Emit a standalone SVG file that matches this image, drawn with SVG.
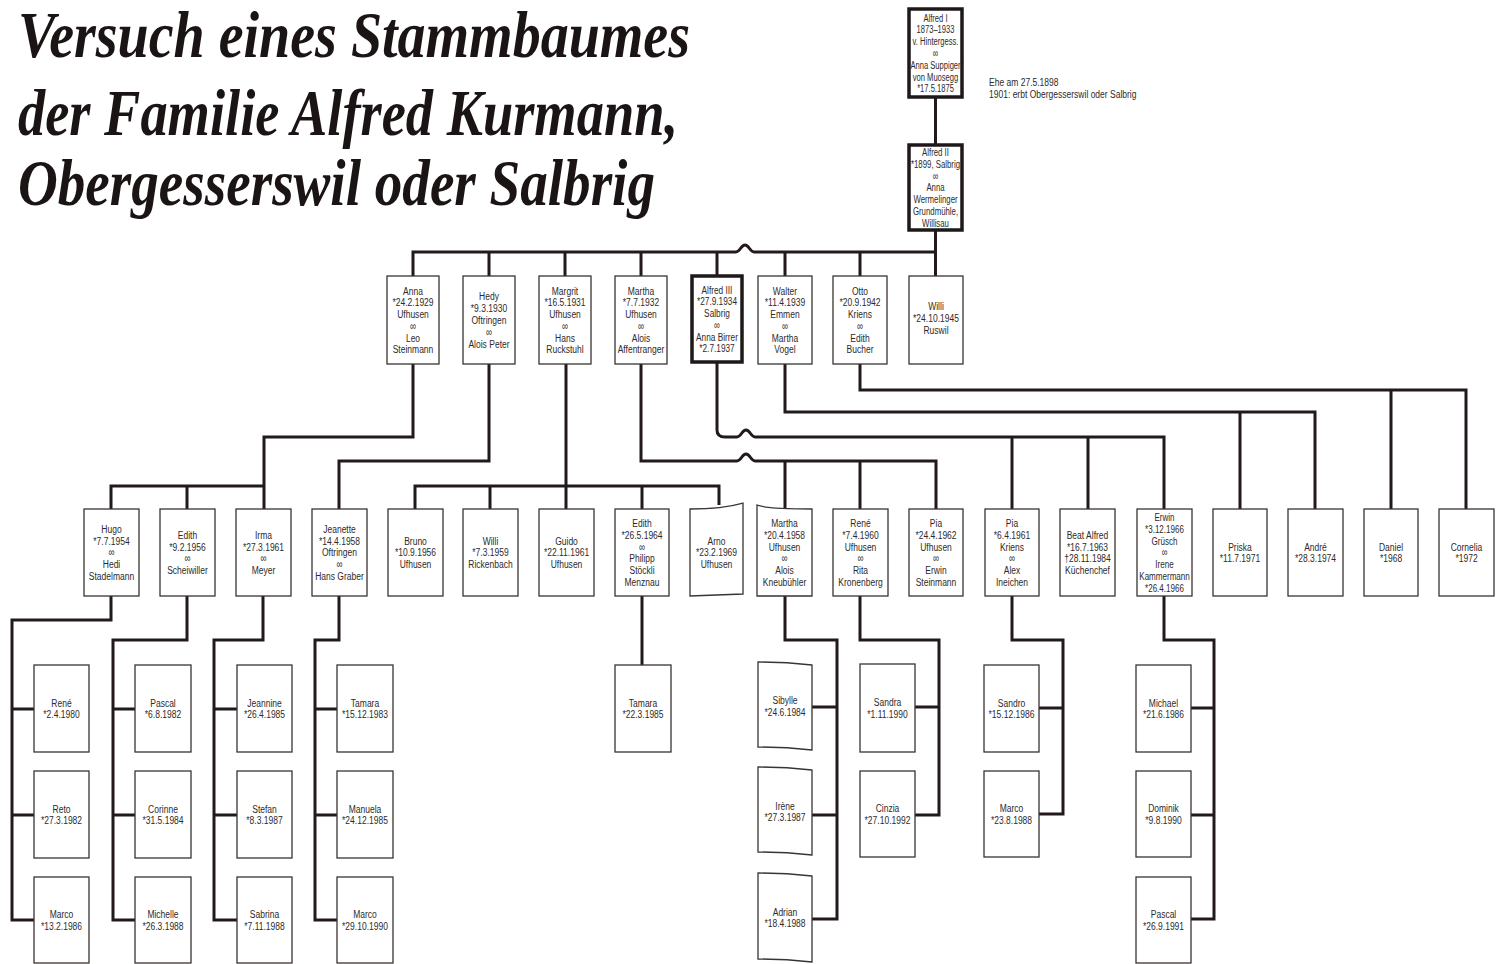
<svg xmlns="http://www.w3.org/2000/svg" width="1502" height="964" viewBox="0 0 1502 964">
<style>
.bg{fill:#ffffff}
.b{fill:#fff;stroke:#3a3434;stroke-width:1.3}
.bt{fill:#fff;stroke:#1e1818;stroke-width:3.5}
.c{fill:none;stroke:#221a1a;stroke-width:3;stroke-linejoin:miter}
.t{font-family:"Liberation Sans",Arial,sans-serif;font-size:11.5px;fill:#2e2a2a;text-anchor:middle}
.n{font-family:"Liberation Sans",Arial,sans-serif;font-size:11.5px;fill:#2e2a2a;text-anchor:start}
.m{font-family:"Liberation Sans","DejaVu Sans",sans-serif;font-size:11.5px}
.h{font-family:"Liberation Serif","DejaVu Serif",serif;font-style:italic;font-weight:bold;font-size:66px;fill:#1a1414}
</style>
<rect class="bg" x="0" y="0" width="1502" height="964"/>

<g id="title">
<text class="h" x="18" y="57" textLength="672" lengthAdjust="spacingAndGlyphs">Versuch eines Stammbaumes</text>
<text class="h" x="18" y="135" textLength="660" lengthAdjust="spacingAndGlyphs">der Familie Alfred Kurmann,</text>
<text class="h" x="18" y="205" textLength="637" lengthAdjust="spacingAndGlyphs">Obergesserswil oder Salbrig</text>
</g>

<g id="note">
<text class="n" transform="translate(989,86) scale(0.74,1)"><tspan x="0">Ehe am 27.5.1898</tspan><tspan x="0" dy="11.8">1901: erbt Obergesserswil oder Salbrig</tspan></text>
</g>

<g id="connectors">
<path class="c" d="M935.5,97 V145"/>
<path class="c" d="M935.5,230 V276"/>
<path class="c" d="M413,276 V252 H736 C740,252 741,245 745,245 C749,245 750,252 754,252 H936"/>
<path class="c" d="M489,252 V276 M565,252 V276 M641,252 V276 M717,252 V276 M785,252 V276 M860,252 V276"/>
<path class="c" d="M413,364 V437 H264 V509"/>
<path class="c" d="M111,509 V486 H264 M187,486 V509"/>
<path class="c" d="M489,364 V461 H339 V509"/>
<path class="c" d="M566,364 V509"/>
<path class="c" d="M415,509 V486 H719 V505 M490,486 V509 M642,486 V509"/>
<path class="c" d="M641,364 V461 H737 C741,461 742,454 746,454 C750,454 751,461 755,461 H936 V509 M785,461 V509 M860,461 V509"/>
<path class="c" d="M717,362 V430 Q717,437 725,437 H737 C741,437 742,430 746,430 C750,430 751,437 755,437 H1164 V509 M1012,437 V509 M1088,437 V509"/>
<path class="c" d="M785,364 V412 H1315 V509 M1240,412 V509"/>
<path class="c" d="M860,364 V390 H1466 V509 M1391,390 V509"/>
<path class="c" d="M111,596 V620 H12 V920 H34 M12,709 H34 M12,815 H34"/>
<path class="c" d="M187,596 V640 H113 V920 H135 M113,709 H135 M113,815 H135"/>
<path class="c" d="M263,596 V640 H214 V920 H237 M214,709 H237 M214,815 H237"/>
<path class="c" d="M339,596 V640 H315 V920 H337 M315,709 H337 M315,815 H337"/>
<path class="c" d="M642,596 V665"/>
<path class="c" d="M785,596 V640 H837 V919 H812 M837,707 H812 M837,815 H812"/>
<path class="c" d="M860,596 V640 H939 V815 H915 M939,707 H915"/>
<path class="c" d="M1012,596 V640 H1063 V814 H1039 M1063,708 H1039"/>
<path class="c" d="M1164,596 V640 H1214 V919 H1191 M1214,708 H1191 M1214,815 H1191"/>
</g>

<g id="alfred1"><rect class="bt" x="909" y="9" width="53" height="88"/>
<text class="t" transform="translate(935.5,21.6) scale(0.66,1)"><tspan x="0">Alfred I</tspan><tspan x="0" dy="11.8">1873–1933</tspan><tspan x="0" dy="11.8">v. Hintergess.</tspan><tspan x="0" dy="11.8" class="m">∞</tspan><tspan x="0" dy="11.8">Anna Suppiger</tspan><tspan x="0" dy="11.8">von Muosegg</tspan><tspan x="0" dy="11.8">*17.5.1875</tspan></text></g>

<g id="alfred2"><rect class="bt" x="909" y="145" width="53" height="85"/>
<text class="t" transform="translate(935.5,156.1) scale(0.68,1)"><tspan x="0">Alfred II</tspan><tspan x="0" dy="11.8">*1899, Salbrig</tspan><tspan x="0" dy="11.8" class="m">∞</tspan><tspan x="0" dy="11.8">Anna</tspan><tspan x="0" dy="11.8">Wermelinger</tspan><tspan x="0" dy="11.8">Grundmühle,</tspan><tspan x="0" dy="11.8">Willisau</tspan></text></g>

<g id="anna"><rect class="b" x="387" y="276" width="52" height="88"/>
<text class="t" transform="translate(413,294.5) scale(0.74,1)"><tspan x="0">Anna</tspan><tspan x="0" dy="11.8">*24.2.1929</tspan><tspan x="0" dy="11.8">Ufhusen</tspan><tspan x="0" dy="11.8" class="m">∞</tspan><tspan x="0" dy="11.8">Leo</tspan><tspan x="0" dy="11.8">Steinmann</tspan></text></g>

<g id="hedy"><rect class="b" x="463" y="276" width="52" height="88"/>
<text class="t" transform="translate(489,300.4) scale(0.74,1)"><tspan x="0">Hedy</tspan><tspan x="0" dy="11.8">*9.3.1930</tspan><tspan x="0" dy="11.8">Oftringen</tspan><tspan x="0" dy="11.8" class="m">∞</tspan><tspan x="0" dy="11.8">Alois Peter</tspan></text></g>

<g id="margrit"><rect class="b" x="539" y="276" width="52" height="88"/>
<text class="t" transform="translate(565,294.5) scale(0.74,1)"><tspan x="0">Margrit</tspan><tspan x="0" dy="11.8">*16.5.1931</tspan><tspan x="0" dy="11.8">Ufhusen</tspan><tspan x="0" dy="11.8" class="m">∞</tspan><tspan x="0" dy="11.8">Hans</tspan><tspan x="0" dy="11.8">Ruckstuhl</tspan></text></g>

<g id="martha"><rect class="b" x="615" y="276" width="52" height="88"/>
<text class="t" transform="translate(641,294.5) scale(0.74,1)"><tspan x="0">Martha</tspan><tspan x="0" dy="11.8">*7.7.1932</tspan><tspan x="0" dy="11.8">Ufhusen</tspan><tspan x="0" dy="11.8" class="m">∞</tspan><tspan x="0" dy="11.8">Alois</tspan><tspan x="0" dy="11.8">Affentranger</tspan></text></g>

<g id="alfred3"><rect class="bt" x="692" y="276" width="50" height="86"/>
<text class="t" transform="translate(717,293.5) scale(0.72,1)"><tspan x="0">Alfred III</tspan><tspan x="0" dy="11.8">*27.9.1934</tspan><tspan x="0" dy="11.8">Salbrig</tspan><tspan x="0" dy="11.8" class="m">∞</tspan><tspan x="0" dy="11.8">Anna Birrer</tspan><tspan x="0" dy="11.8">*2.7.1937</tspan></text></g>

<g id="walter"><rect class="b" x="758" y="276" width="54" height="88"/>
<text class="t" transform="translate(785,294.5) scale(0.74,1)"><tspan x="0">Walter</tspan><tspan x="0" dy="11.8">*11.4.1939</tspan><tspan x="0" dy="11.8">Emmen</tspan><tspan x="0" dy="11.8" class="m">∞</tspan><tspan x="0" dy="11.8">Martha</tspan><tspan x="0" dy="11.8">Vogel</tspan></text></g>

<g id="otto"><rect class="b" x="833" y="276" width="54" height="88"/>
<text class="t" transform="translate(860,294.5) scale(0.74,1)"><tspan x="0">Otto</tspan><tspan x="0" dy="11.8">*20.9.1942</tspan><tspan x="0" dy="11.8">Kriens</tspan><tspan x="0" dy="11.8" class="m">∞</tspan><tspan x="0" dy="11.8">Edith</tspan><tspan x="0" dy="11.8">Bucher</tspan></text></g>

<g id="willi1"><rect class="b" x="909" y="276" width="54" height="88"/>
<text class="t" transform="translate(936,310) scale(0.74,1)"><tspan x="0">Willi</tspan><tspan x="0" dy="11.8">*24.10.1945</tspan><tspan x="0" dy="11.8">Ruswil</tspan></text></g>

<g id="hugo"><rect class="b" x="84" y="509" width="55" height="87"/>
<text class="t" transform="translate(111.5,532.9) scale(0.74,1)"><tspan x="0">Hugo</tspan><tspan x="0" dy="11.8">*7.7.1954</tspan><tspan x="0" dy="11.8" class="m">∞</tspan><tspan x="0" dy="11.8">Hedi</tspan><tspan x="0" dy="11.8">Stadelmann</tspan></text></g>

<g id="edith1"><rect class="b" x="160" y="509" width="55" height="87"/>
<text class="t" transform="translate(187.5,538.8) scale(0.74,1)"><tspan x="0">Edith</tspan><tspan x="0" dy="11.8">*9.2.1956</tspan><tspan x="0" dy="11.8" class="m">∞</tspan><tspan x="0" dy="11.8">Scheiwiller</tspan></text></g>

<g id="irma"><rect class="b" x="236" y="509" width="55" height="87"/>
<text class="t" transform="translate(263.5,538.8) scale(0.74,1)"><tspan x="0">Irma</tspan><tspan x="0" dy="11.8">*27.3.1961</tspan><tspan x="0" dy="11.8" class="m">∞</tspan><tspan x="0" dy="11.8">Meyer</tspan></text></g>

<g id="jeanette"><rect class="b" x="312" y="509" width="55" height="87"/>
<text class="t" transform="translate(339.5,532.9) scale(0.74,1)"><tspan x="0">Jeanette</tspan><tspan x="0" dy="11.8">*14.4.1958</tspan><tspan x="0" dy="11.8">Oftringen</tspan><tspan x="0" dy="11.8" class="m">∞</tspan><tspan x="0" dy="11.8">Hans Graber</tspan></text></g>

<g id="bruno"><rect class="b" x="388" y="509" width="55" height="87"/>
<text class="t" transform="translate(415.5,544.7) scale(0.74,1)"><tspan x="0">Bruno</tspan><tspan x="0" dy="11.8">*10.9.1956</tspan><tspan x="0" dy="11.8">Ufhusen</tspan></text></g>

<g id="willi2"><rect class="b" x="463" y="509" width="55" height="87"/>
<text class="t" transform="translate(490.5,544.7) scale(0.74,1)"><tspan x="0">Willi</tspan><tspan x="0" dy="11.8">*7.3.1959</tspan><tspan x="0" dy="11.8">Rickenbach</tspan></text></g>

<g id="guido"><rect class="b" x="539" y="509" width="55" height="87"/>
<text class="t" transform="translate(566.5,544.7) scale(0.74,1)"><tspan x="0">Guido</tspan><tspan x="0" dy="11.8">*22.11.1961</tspan><tspan x="0" dy="11.8">Ufhusen</tspan></text></g>

<g id="edith2"><rect class="b" x="615" y="509" width="54" height="87"/>
<text class="t" transform="translate(642,527) scale(0.74,1)"><tspan x="0">Edith</tspan><tspan x="0" dy="11.8">*26.5.1964</tspan><tspan x="0" dy="11.8" class="m">∞</tspan><tspan x="0" dy="11.8">Philipp</tspan><tspan x="0" dy="11.8">Stöckli</tspan><tspan x="0" dy="11.8">Menznau</tspan></text></g>

<g id="arno"><path class="b" d="M690,509 Q722,509 743,503 L743,594 L690,596 Z"/>
<text class="t" transform="translate(716.5,544.7) scale(0.74,1)"><tspan x="0">Arno</tspan><tspan x="0" dy="11.8">*23.2.1969</tspan><tspan x="0" dy="11.8">Ufhusen</tspan></text></g>

<g id="martha2"><path class="b" d="M757,505 Q768,509 812,509 L812,596 L757,596 Z"/>
<text class="t" transform="translate(784.5,527) scale(0.74,1)"><tspan x="0">Martha</tspan><tspan x="0" dy="11.8">*20.4.1958</tspan><tspan x="0" dy="11.8">Ufhusen</tspan><tspan x="0" dy="11.8" class="m">∞</tspan><tspan x="0" dy="11.8">Alois</tspan><tspan x="0" dy="11.8">Kneubühler</tspan></text></g>

<g id="rene1"><rect class="b" x="833" y="509" width="55" height="87"/>
<text class="t" transform="translate(860.5,527) scale(0.74,1)"><tspan x="0">René</tspan><tspan x="0" dy="11.8">*7.4.1960</tspan><tspan x="0" dy="11.8">Ufhusen</tspan><tspan x="0" dy="11.8" class="m">∞</tspan><tspan x="0" dy="11.8">Rita</tspan><tspan x="0" dy="11.8">Kronenberg</tspan></text></g>

<g id="pia1"><rect class="b" x="909" y="509" width="54" height="87"/>
<text class="t" transform="translate(936,527) scale(0.74,1)"><tspan x="0">Pia</tspan><tspan x="0" dy="11.8">*24.4.1962</tspan><tspan x="0" dy="11.8">Ufhusen</tspan><tspan x="0" dy="11.8" class="m">∞</tspan><tspan x="0" dy="11.8">Erwin</tspan><tspan x="0" dy="11.8">Steinmann</tspan></text></g>

<g id="pia2"><rect class="b" x="985" y="509" width="54" height="87"/>
<text class="t" transform="translate(1012,527) scale(0.74,1)"><tspan x="0">Pia</tspan><tspan x="0" dy="11.8">*6.4.1961</tspan><tspan x="0" dy="11.8">Kriens</tspan><tspan x="0" dy="11.8" class="m">∞</tspan><tspan x="0" dy="11.8">Alex</tspan><tspan x="0" dy="11.8">Ineichen</tspan></text></g>

<g id="beat"><rect class="b" x="1060" y="509" width="55" height="87"/>
<text class="t" transform="translate(1087.5,538.8) scale(0.74,1)"><tspan x="0">Beat Alfred</tspan><tspan x="0" dy="11.8">*16.7.1963</tspan><tspan x="0" dy="11.8">†28.11.1984</tspan><tspan x="0" dy="11.8">Küchenchef</tspan></text></g>

<g id="erwin"><rect class="b" x="1137" y="509" width="55" height="87"/>
<text class="t" transform="translate(1164.5,521.1) scale(0.7,1)"><tspan x="0">Erwin</tspan><tspan x="0" dy="11.8">*3.12.1966</tspan><tspan x="0" dy="11.8">Grüsch</tspan><tspan x="0" dy="11.8" class="m">∞</tspan><tspan x="0" dy="11.8">Irene</tspan><tspan x="0" dy="11.8">Kammermann</tspan><tspan x="0" dy="11.8">*26.4.1966</tspan></text></g>

<g id="priska"><rect class="b" x="1213" y="509" width="54" height="87"/>
<text class="t" transform="translate(1240,550.6) scale(0.74,1)"><tspan x="0">Priska</tspan><tspan x="0" dy="11.8">*11.7.1971</tspan></text></g>

<g id="andre"><rect class="b" x="1288" y="509" width="55" height="87"/>
<text class="t" transform="translate(1315.5,550.6) scale(0.74,1)"><tspan x="0">André</tspan><tspan x="0" dy="11.8">*28.3.1974</tspan></text></g>

<g id="daniel"><rect class="b" x="1364" y="509" width="54" height="87"/>
<text class="t" transform="translate(1391,550.6) scale(0.74,1)"><tspan x="0">Daniel</tspan><tspan x="0" dy="11.8">*1968</tspan></text></g>

<g id="cornelia"><rect class="b" x="1439" y="509" width="55" height="87"/>
<text class="t" transform="translate(1466.5,550.6) scale(0.74,1)"><tspan x="0">Cornelia</tspan><tspan x="0" dy="11.8">*1972</tspan></text></g>

<g id="rene2"><rect class="b" x="34" y="665" width="55" height="87"/>
<text class="t" transform="translate(61.5,706.6) scale(0.74,1)"><tspan x="0">René</tspan><tspan x="0" dy="11.8">*2.4.1980</tspan></text></g>
<g id="reto"><rect class="b" x="34" y="771" width="55" height="87"/>
<text class="t" transform="translate(61.5,812.6) scale(0.74,1)"><tspan x="0">Reto</tspan><tspan x="0" dy="11.8">*27.3.1982</tspan></text></g>
<g id="marco1"><rect class="b" x="34" y="877" width="55" height="86"/>
<text class="t" transform="translate(61.5,918.1) scale(0.74,1)"><tspan x="0">Marco</tspan><tspan x="0" dy="11.8">*13.2.1986</tspan></text></g>

<g id="pascal1"><rect class="b" x="135" y="665" width="56" height="87"/>
<text class="t" transform="translate(163,706.6) scale(0.74,1)"><tspan x="0">Pascal</tspan><tspan x="0" dy="11.8">*6.8.1982</tspan></text></g>
<g id="corinne"><rect class="b" x="135" y="771" width="56" height="87"/>
<text class="t" transform="translate(163,812.6) scale(0.74,1)"><tspan x="0">Corinne</tspan><tspan x="0" dy="11.8">*31.5.1984</tspan></text></g>
<g id="michelle"><rect class="b" x="135" y="877" width="56" height="86"/>
<text class="t" transform="translate(163,918.1) scale(0.74,1)"><tspan x="0">Michelle</tspan><tspan x="0" dy="11.8">*26.3.1988</tspan></text></g>

<g id="jeannine"><rect class="b" x="237" y="665" width="55" height="87"/>
<text class="t" transform="translate(264.5,706.6) scale(0.74,1)"><tspan x="0">Jeannine</tspan><tspan x="0" dy="11.8">*26.4.1985</tspan></text></g>
<g id="stefan"><rect class="b" x="237" y="771" width="55" height="87"/>
<text class="t" transform="translate(264.5,812.6) scale(0.74,1)"><tspan x="0">Stefan</tspan><tspan x="0" dy="11.8">*8.3.1987</tspan></text></g>
<g id="sabrina"><rect class="b" x="237" y="877" width="55" height="86"/>
<text class="t" transform="translate(264.5,918.1) scale(0.74,1)"><tspan x="0">Sabrina</tspan><tspan x="0" dy="11.8">*7.11.1988</tspan></text></g>

<g id="tamara1"><rect class="b" x="337" y="665" width="56" height="87"/>
<text class="t" transform="translate(365,706.6) scale(0.74,1)"><tspan x="0">Tamara</tspan><tspan x="0" dy="11.8">*15.12.1983</tspan></text></g>
<g id="manuela"><rect class="b" x="337" y="771" width="56" height="87"/>
<text class="t" transform="translate(365,812.6) scale(0.74,1)"><tspan x="0">Manuela</tspan><tspan x="0" dy="11.8">*24.12.1985</tspan></text></g>
<g id="marco2"><rect class="b" x="337" y="877" width="56" height="86"/>
<text class="t" transform="translate(365,918.1) scale(0.74,1)"><tspan x="0">Marco</tspan><tspan x="0" dy="11.8">*29.10.1990</tspan></text></g>

<g id="tamara2"><rect class="b" x="615" y="665" width="56" height="87"/>
<text class="t" transform="translate(643,706.6) scale(0.74,1)"><tspan x="0">Tamara</tspan><tspan x="0" dy="11.8">*22.3.1985</tspan></text></g>

<g id="sibylle"><path class="b" d="M758,662 Q785,662 812,665 L812,750 Q785,747 758,747 Z"/>
<text class="t" transform="translate(785,704) scale(0.74,1)"><tspan x="0">Sibylle</tspan><tspan x="0" dy="11.8">*24.6.1984</tspan></text></g>
<g id="irene"><path class="b" d="M758,767 Q785,767 812,770 L812,855 Q785,852 758,852 Z"/>
<text class="t" transform="translate(785,809.5) scale(0.74,1)"><tspan x="0">Irène</tspan><tspan x="0" dy="11.8">*27.3.1987</tspan></text></g>
<g id="adrian"><path class="b" d="M758,873 Q785,873 812,876 L812,962 Q785,959 758,959 Z"/>
<text class="t" transform="translate(785,915.6) scale(0.74,1)"><tspan x="0">Adrian</tspan><tspan x="0" dy="11.8">*18.4.1988</tspan></text></g>

<g id="sandra"><rect class="b" x="860" y="664" width="55" height="88"/>
<text class="t" transform="translate(887.5,706) scale(0.74,1)"><tspan x="0">Sandra</tspan><tspan x="0" dy="11.8">*1.11.1990</tspan></text></g>
<g id="cinzia"><rect class="b" x="860" y="771" width="55" height="86"/>
<text class="t" transform="translate(887.5,812) scale(0.74,1)"><tspan x="0">Cinzia</tspan><tspan x="0" dy="11.8">*27.10.1992</tspan></text></g>

<g id="sandro"><rect class="b" x="984" y="665" width="55" height="87"/>
<text class="t" transform="translate(1011.5,706.6) scale(0.74,1)"><tspan x="0">Sandro</tspan><tspan x="0" dy="11.8">*15.12.1986</tspan></text></g>
<g id="marco3"><rect class="b" x="984" y="771" width="55" height="86"/>
<text class="t" transform="translate(1011.5,812) scale(0.74,1)"><tspan x="0">Marco</tspan><tspan x="0" dy="11.8">*23.8.1988</tspan></text></g>

<g id="michael"><rect class="b" x="1136" y="665" width="55" height="87"/>
<text class="t" transform="translate(1163.5,706.6) scale(0.74,1)"><tspan x="0">Michael</tspan><tspan x="0" dy="11.8">*21.6.1986</tspan></text></g>
<g id="dominik"><rect class="b" x="1136" y="771" width="55" height="86"/>
<text class="t" transform="translate(1163.5,812) scale(0.74,1)"><tspan x="0">Dominik</tspan><tspan x="0" dy="11.8">*9.8.1990</tspan></text></g>
<g id="pascal2"><rect class="b" x="1136" y="877" width="55" height="86"/>
<text class="t" transform="translate(1163.5,918.1) scale(0.74,1)"><tspan x="0">Pascal</tspan><tspan x="0" dy="11.8">*26.9.1991</tspan></text></g>
</svg>
